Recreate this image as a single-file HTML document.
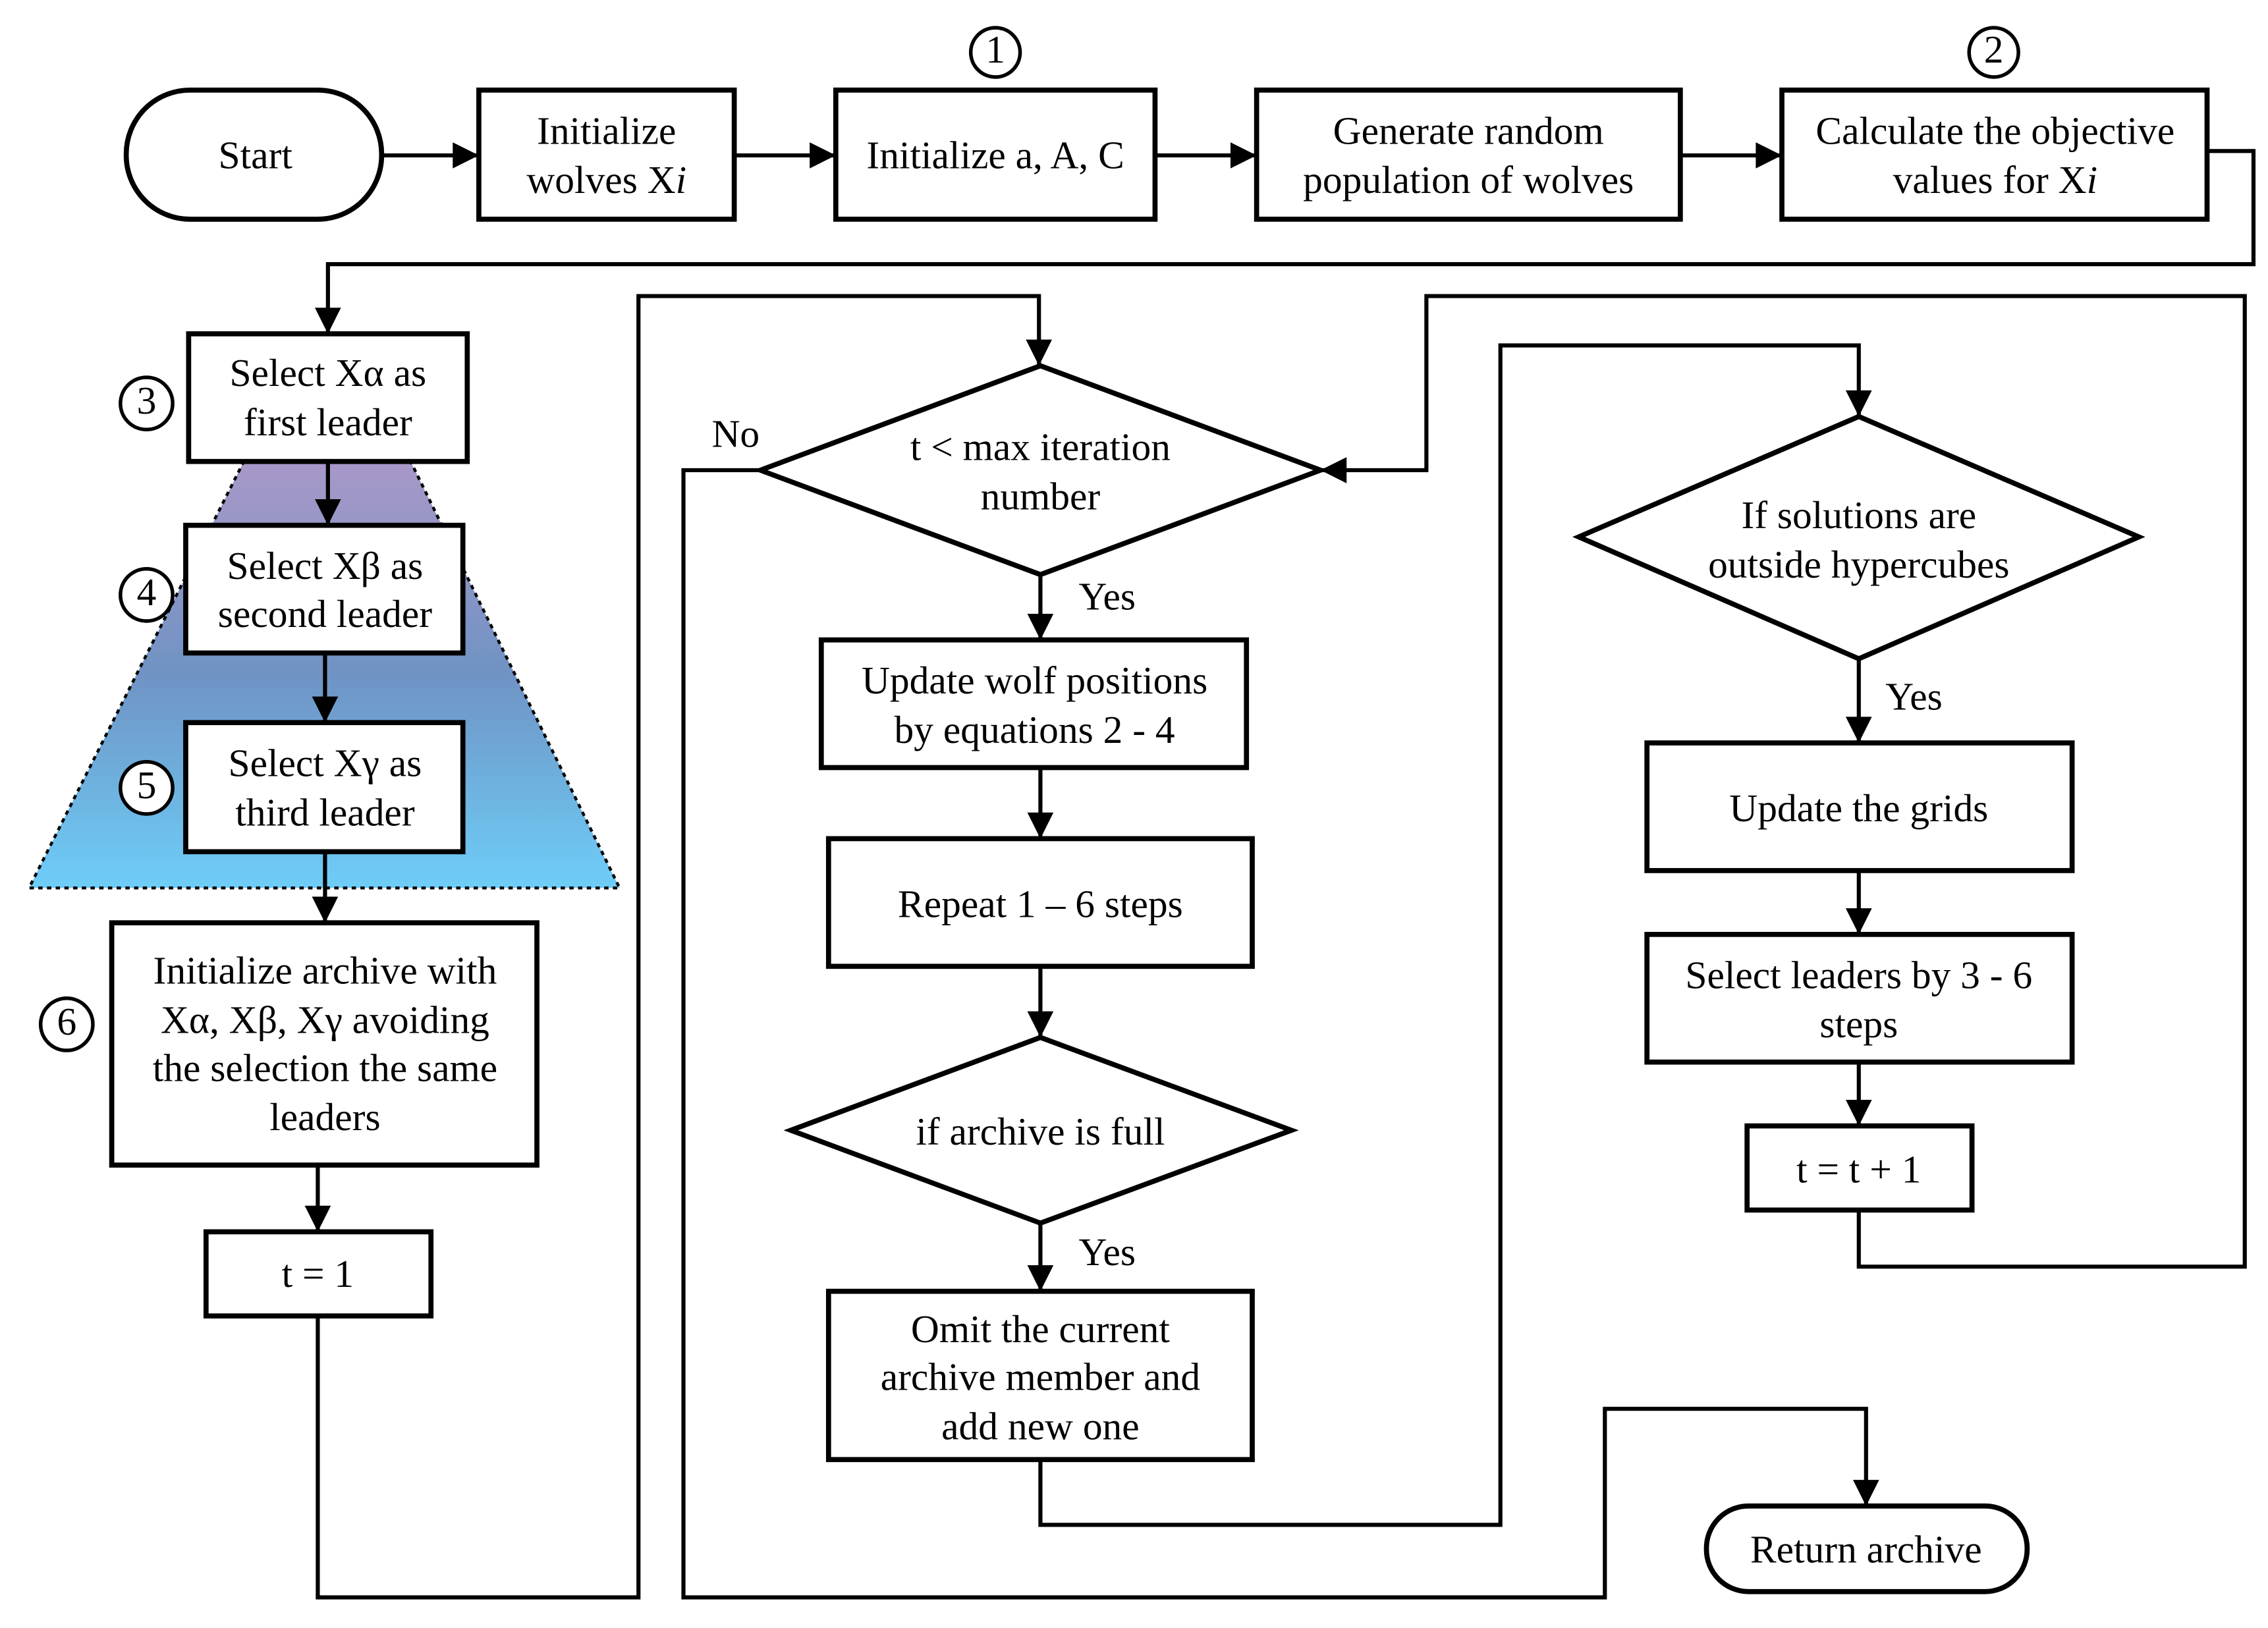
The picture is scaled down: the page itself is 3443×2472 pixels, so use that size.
<!DOCTYPE html>
<html><head><meta charset="utf-8"><style>
html,body{margin:0;padding:0;background:#fff;}
svg{display:block;}
text{font-family:"Liberation Serif",serif;font-size:27px;fill:#000;text-anchor:middle;}
</style></head><body>
<svg width="3443" height="2472" viewBox="0 0 1563 1122" xmlns="http://www.w3.org/2000/svg">
<defs>
<linearGradient id="g" x1="0" y1="0" x2="0" y2="1">
<stop offset="0" stop-color="#a898c8"/><stop offset="0.5" stop-color="#6f93c4"/><stop offset="1" stop-color="#6ecdf8"/>
</linearGradient>
<marker id="a" viewBox="0 0 10 10" refX="10" refY="5" markerWidth="22" markerHeight="18" orient="auto" markerUnits="userSpaceOnUse">
<path d="M0,0 L10,5 L0,10 z" fill="#000"/>
</marker>
</defs>
<polygon points="168,318 283,318 427,612 20,612" fill="url(#g)" stroke="#000" stroke-width="2" stroke-dasharray="3,3"/>
<g fill="#fff" stroke="#000" stroke-width="3.5">
<rect x="87" y="62" width="176" height="89" rx="44"/>
<rect x="330" y="62" width="176" height="89"/>
<rect x="576" y="62" width="220" height="89"/>
<rect x="866" y="62" width="292" height="89"/>
<rect x="1228" y="62" width="293" height="89"/>
<rect x="130" y="230" width="192" height="88"/>
<rect x="128" y="362" width="191" height="88"/>
<rect x="128" y="498" width="191" height="89"/>
<rect x="77" y="636" width="293" height="167"/>
<rect x="142" y="849" width="155" height="58"/>
<polygon points="524,324 717,252 910,324 717,396"/>
<rect x="566" y="441" width="293" height="88"/>
<rect x="571" y="578" width="292" height="88"/>
<polygon points="545,779 717,715 890,779 717,843"/>
<rect x="571" y="890" width="292" height="116"/>
<polygon points="1088,370 1281,287 1474,370 1281,454"/>
<rect x="1135" y="512" width="293" height="88"/>
<rect x="1135" y="644" width="293" height="88"/>
<rect x="1204" y="776" width="155" height="58"/>
<rect x="1176" y="1038" width="221" height="59" rx="29"/>
</g>
<g fill="#fff" stroke="#000" stroke-width="2.5">
<circle cx="686" cy="36" r="17"/><circle cx="1374" cy="36" r="17"/>
<circle cx="101" cy="278" r="18"/><circle cx="101" cy="410" r="18"/>
<circle cx="101" cy="543" r="18"/><circle cx="46" cy="706" r="18"/>
</g>
<g style="font-size:20px">
<text x="686" y="43">1</text><text x="1374" y="43">2</text>
<text x="101" y="285">3</text><text x="101" y="417">4</text>
<text x="101" y="550">5</text><text x="46" y="713">6</text>
</g>
<g fill="none" stroke="#000" stroke-width="2.8" marker-end="url(#a)">
<path d="M263,107 H330"/><path d="M506,107 H576"/><path d="M796,107 H866"/><path d="M1158,107 H1228"/>
<path d="M1521,104 H1553 V182 H226 V230"/>
<path d="M226,318 V362"/><path d="M224,450 V498"/><path d="M224,587 V636"/><path d="M219,803 V849"/>
<path d="M219,907 V1101 H440 V204 H716 V252"/>
<path d="M524,324 H471 V1101 H1106 V971 H1286 V1038"/>
<path d="M717,396 V441"/><path d="M717,529 V578"/><path d="M717,666 V715"/><path d="M717,843 V890"/>
<path d="M717,1006 V1051 H1034 V238 H1281 V287"/>
<path d="M1281,454 V512"/><path d="M1281,600 V644"/><path d="M1281,732 V776"/>
<path d="M1281,834 V873 H1547 V204 H983 V324 H910"/>
</g>
<text x="176" y="116">Start</text>
<text x="418" y="99">Initialize</text><text x="418" y="133">wolves X<tspan font-style="italic">i</tspan></text>
<text x="686" y="116">Initialize a, A, C</text>
<text x="1012" y="99">Generate random</text><text x="1012" y="133">population of wolves</text>
<text x="1375" y="99">Calculate the objective</text><text x="1375" y="133">values for X<tspan font-style="italic">i</tspan></text>
<text x="226" y="266">Select Xα as</text><text x="226" y="300">first leader</text>
<text x="224" y="399">Select Xβ as</text><text x="224" y="432">second leader</text>
<text x="224" y="535">Select Xγ as</text><text x="224" y="569">third leader</text>
<text x="224" y="678">Initialize archive with</text><text x="224" y="712">Xα, Xβ, Xγ avoiding</text>
<text x="224" y="745">the selection the same</text><text x="224" y="779">leaders</text>
<text x="219" y="887">t = 1</text>
<text x="717" y="317">t &lt; max iteration</text><text x="717" y="351">number</text>
<text x="507" y="308">No</text>
<text x="763" y="420">Yes</text>
<text x="713" y="478">Update wolf positions</text><text x="713" y="512">by equations 2 - 4</text>
<text x="717" y="632">Repeat 1 – 6 steps</text>
<text x="717" y="789">if archive is full</text>
<text x="763" y="872">Yes</text>
<text x="717" y="925">Omit the current</text><text x="717" y="958">archive member and</text><text x="717" y="992">add new one</text>
<text x="1281" y="364">If solutions are</text><text x="1281" y="398">outside hypercubes</text>
<text x="1319" y="489">Yes</text>
<text x="1281" y="566">Update the grids</text>
<text x="1281" y="681">Select leaders by 3 - 6</text><text x="1281" y="715">steps</text>
<text x="1281" y="815">t = t + 1</text>
<text x="1286" y="1077">Return archive</text>
</svg>
</body></html>
